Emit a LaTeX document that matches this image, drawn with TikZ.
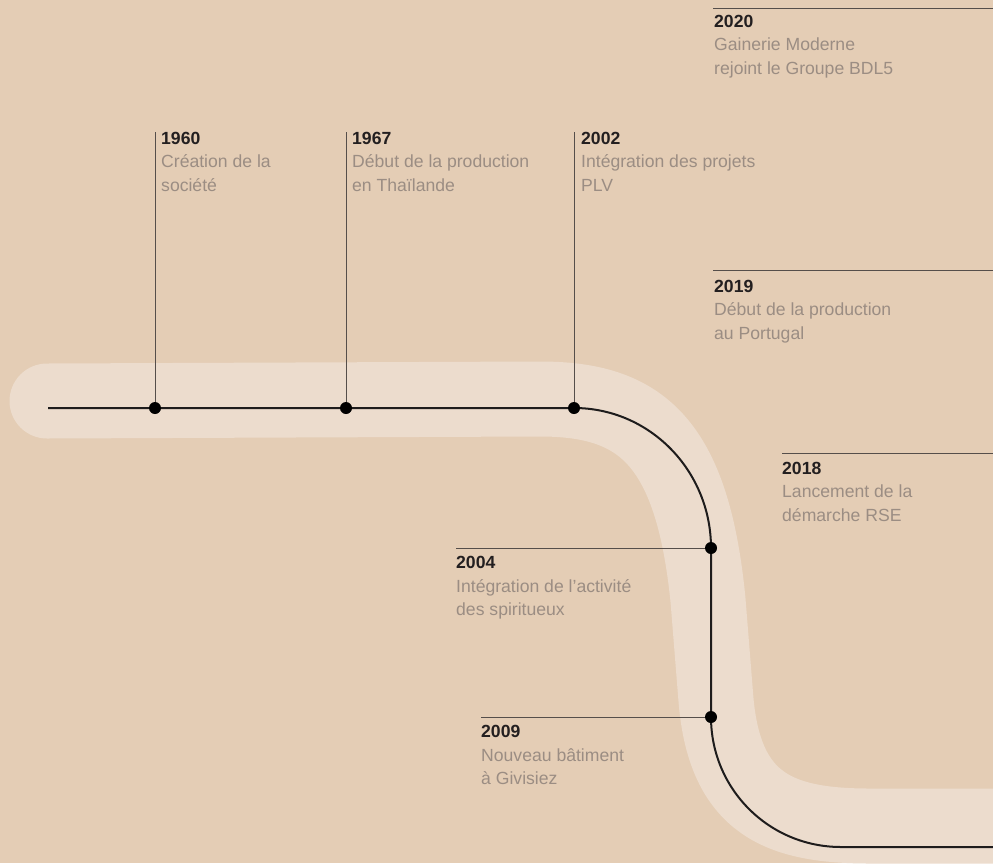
\documentclass[tikz,border=0pt]{standalone}
\usepackage{fontspec}
\setmainfont{Liberation Sans}
\definecolor{bgtan}{RGB}{228,205,181}
\definecolor{bandtan}{RGB}{236,220,205}
\definecolor{linedark}{RGB}{30,28,28}
\definecolor{tickgray}{RGB}{85,78,74}
\definecolor{yeardark}{RGB}{35,31,32}
\definecolor{descgray}{RGB}{155,141,131}
\newcommand{\yr}[1]{{\color{yeardark}\bfseries #1}}
\tikzset{
  dot/.style={circle, fill=black, inner sep=0pt, minimum size=12pt},
  tick/.style={draw=tickgray, line width=1pt},
  event/.style={anchor=north west, inner sep=0pt, align=left, text=descgray,
    font=\fontsize{17.6}{23.5}\selectfont},
}
\begin{document}
\begin{tikzpicture}[x=1pt, y=-1pt]
  \fill[bgtan] (0,0) rectangle (993,863);
  \useasboundingbox (0,0) rectangle (993,863);
  \draw[draw=bandtan, line width=75pt, line cap=round]
    (47,401) -- (540,399)
    .. controls (640,399) and (692,440) .. (708,600)
    -- (716,700)
    .. controls (725,805) and (780,826) .. (870,826)
    -- (1050,826)
  ;
  \draw[draw=linedark, line width=2pt]
    (48,408) -- (574,408)
    .. controls (650,408) and (711,471) .. (711,548)
    -- (711,717)
    .. controls (711,789) and (769,847) .. (841,847)
    -- (993,847)
  ;
  \node[dot] (D1960) at (155,408) {};
  \node[dot] (D1967) at (346,408) {};
  \node[dot] (D2002) at (574,408) {};
  \node[dot] (D2004) at (711,548) {};
  \node[dot] (D2009) at (711,717) {};
  \coordinate (T1960) at (155,132);
  \coordinate (T1967) at (346,132);
  \coordinate (T2002) at (574,132);
  \coordinate (T2004) at (456,548);
  \coordinate (T2009) at (481,717);
  \coordinate (L2020) at (713,8);
  \coordinate (R2020) at (993,8);
  \coordinate (L2019) at (713,270);
  \coordinate (R2019) at (993,270);
  \coordinate (L2018) at (782,453);
  \coordinate (R2018) at (993,453);
  \draw[tick] (D1960) -- (T1960);
  \draw[tick] (D1967) -- (T1967);
  \draw[tick] (D2002) -- (T2002);
  \draw[tick] (D2004) -- (T2004);
  \draw[tick] (D2009) -- (T2009);
  \draw[tick] (L2020) -- (R2020);
  \draw[tick] (L2019) -- (R2019);
  \draw[tick] (L2018) -- (R2018);
  \node[event] (E1960) at (161,132) {\yr{1960}\\Création de la\\société};
  \node[event] (E1967) at (352,132) {\yr{1967}\\Début de la production\\en Thaïlande};
  \node[event] (E2002) at (581,132) {\yr{2002}\\Intégration des projets\\PLV};
  \node[event] (E2020) at (714,15) {\yr{2020}\\Gainerie Moderne\\rejoint le Groupe BDL5};
  \node[event] (E2019) at (714,280) {\yr{2019}\\Début de la production\\au Portugal};
  \node[event] (E2018) at (782,462) {\yr{2018}\\Lancement de la\\démarche RSE};
  \node[event] (E2004) at (456,556) {\yr{2004}\\Intégration de l’activité\\des spiritueux};
  \node[event] (E2009) at (481,725) {\yr{2009}\\Nouveau bâtiment\\à Givisiez};
\end{tikzpicture}
\end{document}
